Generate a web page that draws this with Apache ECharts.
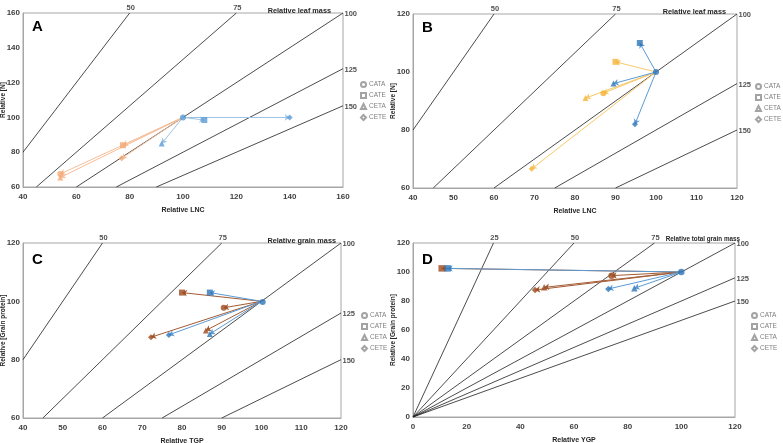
<!DOCTYPE html>
<html><head><meta charset="utf-8">
<script src="https://cdn.jsdelivr.net/npm/echarts@6/dist/echarts.min.js"></script>
<style>html,body{margin:0;padding:0;background:#fff}#c{width:783px;height:443px}</style>
</head><body><div id="c"></div>
<script>
// ---------- data ----------
const treatments = ['CATA', 'CATE', 'CETA', 'CETE'];
const control = [100, 100];

// Panel A : Relative LNC vs Relative [N]
const aXRange = [40, 160, 20];
const aYRange = [60, 160, 20];
const aIsoLevels = [50, 75, 100, 125, 150];
const aWarmX = [54, 77.5, 54, 77];
const aWarmY = [67.5, 84, 65.5, 76.5];
const aCoolX = [100, 108, 92, 140];
const aCoolY = [100, 98.5, 85, 100];

// Panel B : Relative LNC vs Relative [N]
const bXRange = [40, 120, 10];
const bYRange = [60, 120, 20];
const bIsoLevels = [50, 75, 100, 125, 150];
const bWarmX = [87, 90, 82.6, 69.3];
const bWarmY = [92.7, 103.5, 91, 66.6];
const bCoolX = [100, 96, 89.5, 94.8];
const bCoolY = [100, 110, 96, 82];

// Panel C : Relative TGP vs Relative [Grain protein]
const cXRange = [40, 120, 10];
const cYRange = [60, 120, 20];
const cIsoLevels = [50, 75, 100, 125, 150];
const cWarmX = [90.5, 80, 86, 72.2];
const cWarmY = [97.8, 103, 90, 87.7];
const cCoolX = [100.3, 87, 87, 76.7];
const cCoolY = [99.8, 103, 88.8, 88.5];

// Panel D : Relative YGP vs Relative [Grain protein]
const dXRange = [0, 120, 20];
const dYRange = [0, 120, 20];
const dIsoLevels = [25, 50, 75, 100, 125, 150];
const dWarmX = [74, 10.7, 48.9, 45.5];
const dWarmY = [97.5, 102.5, 89.4, 87.6];
const dCoolX = [100, 12.9, 82.5, 72.8];
const dCoolY = [100, 102.5, 88.8, 88.3];

// ---------- styling ----------
const FONT = 'Liberation Sans';
const shapes = ['circle', 'rect', 'triangle', 'diamond'];
const panels = [
  {letter: 'A', top: 'Relative leaf mass', xName: 'Relative LNC', yName: 'Relative [N]',
   xr: aXRange, yr: aYRange, iso: aIsoLevels,
   warm: [aWarmX, aWarmY], cool: [aCoolX, aCoolY],
   warmColor: '#F4A873', warmLine: '#F6BE98', coolColor: '#5B9BD5', coolLine: '#9DC3E6',
   grid: {left: 23, top: 13, width: 320, height: 174},
   titlePos: {right: 447, top: 2}, titleSize: 7.3, letterPos: {left: 27, top: 14},
   legendPos: {left: 360, top: 81}, size: 6},
  {letter: 'B', top: 'Relative leaf mass', xName: 'Relative LNC', yName: 'Relative [N]',
   xr: bXRange, yr: bYRange, iso: bIsoLevels,
   warm: [bWarmX, bWarmY], cool: [bCoolX, bCoolY],
   warmColor: '#F5B335', warmLine: '#F8C96A', coolColor: '#2E75B6', coolLine: '#5B9BD5',
   grid: {left: 413, top: 14, width: 324, height: 174},
   titlePos: {right: 52, top: 3}, titleSize: 7.3, letterPos: {left: 417, top: 15},
   legendPos: {left: 755, top: 83}, size: 6},
  {letter: 'C', top: 'Relative grain mass', xName: 'Relative TGP', yName: 'Relative [Grain protein]',
   xr: cXRange, yr: cYRange, iso: cIsoLevels,
   warm: [cWarmX, cWarmY], cool: [cCoolX, cCoolY],
   warmColor: '#9E4A1E', warmLine: '#A45A33', coolColor: '#2E75B6', coolLine: '#5B9BD5',
   grid: {left: 23, top: 243, width: 318, height: 175},
   titlePos: {right: 442, top: 232}, titleSize: 7.3, letterPos: {left: 27, top: 247},
   legendPos: {left: 361, top: 312}, size: 6},
  {letter: 'D', top: 'Relative total grain mass', xName: 'Relative YGP', yName: 'Relative [Grain protein]',
   xr: dXRange, yr: dYRange, iso: dIsoLevels,
   warm: [dWarmX, dWarmY], cool: [dCoolX, dCoolY],
   warmColor: '#9E4A1E', warmLine: '#A45A33', coolColor: '#2E75B6', coolLine: '#5B9BD5',
   grid: {left: 413, top: 243, width: 322, height: 174},
   titlePos: {right: 38, top: 231}, titleSize: 6.3, letterPos: {left: 417, top: 247},
   legendPos: {left: 751, top: 312}, size: 6.5}
];

const grid = [], xAxis = [], yAxis = [], series = [], title = [], legend = [];

panels.forEach((p, i) => {
  grid.push(Object.assign({show: true, borderColor: '#A6A6A6', borderWidth: 1, backgroundColor: 'transparent',
    containLabel: false, outerBoundsMode: 'none'}, p.grid));
  const axisCommon = {
    gridIndex: i, type: 'value', nameLocation: 'middle', nameMoveOverlap: false,
    nameTextStyle: {fontFamily: FONT, fontWeight: 'bold', fontSize: 7, color: '#262626'},
    axisLine: {show: true, onZero: false, lineStyle: {color: '#A6A6A6', width: 1}},
    axisTick: {show: false}, splitLine: {show: false},
    axisLabel: {fontFamily: FONT, fontWeight: 'bold', fontSize: 8, color: '#404040'}
  };
  xAxis.push(Object.assign({}, axisCommon, {
    min: p.xr[0], max: p.xr[1], interval: p.xr[2], name: p.xName, nameGap: 20,
    axisLabel: Object.assign({}, axisCommon.axisLabel, {margin: 6})
  }));
  yAxis.push(Object.assign({}, axisCommon, {
    min: p.yr[0], max: p.yr[1], interval: p.yr[2], name: p.yName, nameGap: 16,
    nameTextStyle: Object.assign({}, axisCommon.nameTextStyle, {fontSize: 6.5}),
    axisLabel: Object.assign({}, axisCommon.axisLabel, {margin: 3})
  }));

  // isolines: y = x * 100 / level, clipped to the plot
  const labelPts = [];
  p.iso.forEach(L => {
    const k = 100 / L;
    const x1 = Math.max(p.xr[0], p.yr[0] / k);
    const x2 = Math.min(p.xr[1], p.yr[1] / k);
    series.push({
      type: 'line', xAxisIndex: i, yAxisIndex: i, silent: true, symbol: 'none', z: 1,
      data: [[x1, x1 * k], [x2, x2 * k]],
      lineStyle: {color: '#1e1e1e', width: 0.8}, animation: false
    });
    const atTop = x2 < p.xr[1] - 1e-9;
    labelPts.push({
      value: [x2, x2 * k],
      label: {show: true, formatter: String(L), position: atTop ? 'top' : 'right',
        offset: atTop ? [1, 1] : [-3, 1], distance: atTop ? 2 : 4,
        fontFamily: FONT, fontWeight: 'bold', fontSize: 7.5, color: '#262626'}
    });
  });
  series.push({type: 'scatter', xAxisIndex: i, yAxisIndex: i, silent: true, symbolSize: 1,
    itemStyle: {color: 'rgba(0,0,0,0)'}, data: labelPts, z: 2, animation: false});

  // arrows and markers
  [[p.warm, p.warmColor, p.warmLine], [p.cool, p.coolColor, p.coolLine]].forEach(([xy, col, lcol]) => {
    const pts = xy[0].map((x, j) => [x, xy[1][j]]);
    series.push({
      type: 'lines', coordinateSystem: 'cartesian2d', xAxisIndex: i, yAxisIndex: i, z: 3,
      symbol: ['none', 'arrow'], symbolSize: 5, silent: true, animation: false,
      lineStyle: {color: lcol, width: 1, opacity: 1, curveness: 0},
      data: pts.filter(q => Math.hypot(q[0] - control[0], q[1] - control[1]) > 1).map(q => ({coords: [control, q]}))
    });
    series.push({
      type: 'scatter', xAxisIndex: i, yAxisIndex: i, z: 4, symbolSize: p.size, animation: false,
      itemStyle: {color: col},
      data: pts.map((q, j) => ({value: q, symbol: shapes[j]}))
    });
  });

  title.push({text: p.letter, left: p.letterPos.left, top: p.letterPos.top,
    textStyle: {fontFamily: FONT, fontWeight: 'bold', fontSize: 15, color: '#000'}});
  title.push({text: p.top, right: p.titlePos.right, top: p.titlePos.top,
    textStyle: {fontFamily: FONT, fontWeight: 'bold', fontSize: p.titleSize, color: '#262626'}});

  legend.push({
    orient: 'vertical', left: p.legendPos.left, top: p.legendPos.top, itemWidth: 5, itemHeight: 5,
    itemGap: 4, selectedMode: false, padding: 0,
    textStyle: {fontFamily: FONT, fontSize: 6.5, color: '#7F7F7F', padding: [0, 0, 0, -2]},
    data: treatments.map((t, j) => ({name: t, icon: shapes[j]}))
  });
});

// dummy series for legend entries (hollow grey symbols)
treatments.forEach((t, j) => {
  series.push({type: 'scatter', name: t, xAxisIndex: 0, yAxisIndex: 0, data: [], symbol: shapes[j],
    itemStyle: {color: '#fff', borderColor: '#8c8c8c', borderWidth: 0.8}});
});

const chart = echarts.init(document.getElementById('c'), null, {renderer: 'canvas'});
chart.setOption({animation: false, backgroundColor: '#fff', grid, xAxis, yAxis, series, title, legend});
</script></body></html>
